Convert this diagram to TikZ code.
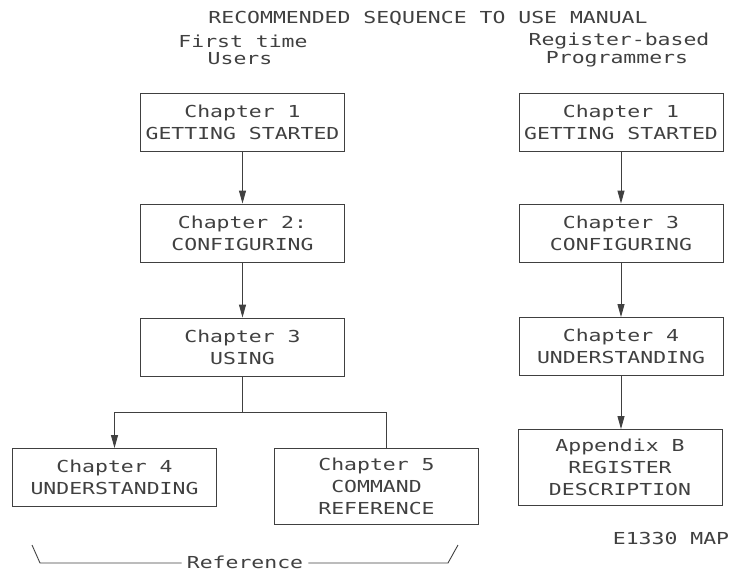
\documentclass[tikz,border=0pt]{standalone}
\usepackage{fontspec}
\newfontfamily\plotfont[FakeStretch=1.3]{DejaVu Sans Mono}
\usetikzlibrary{arrows.meta}
\begin{document}
\begin{tikzpicture}[x=1pt,y=-1pt,
  txt/.style={font=\plotfont\fontsize{16.5}{22}\selectfont, text=black!75, inner sep=5pt},
  box/.style={txt, draw=black!75, line width=0.9pt, minimum width=204pt, minimum height=58pt, inner sep=0pt, align=center},
  tallbox/.style={box, minimum height=76pt},
  conn/.style={draw=black!75, line width=0.9pt},
  arr/.style={conn, -{Triangle[length=13pt,width=7pt]}}]
\useasboundingbox (0,0) rectangle (732,571);
% titles
\node[txt] (title) at (428,18) {RECOMMENDED SEQUENCE TO USE MANUAL};
\node[txt] (lh1) at (243,41) {First time};
\node[txt] (lh2) at (240,59) {Users};
\node[txt] (rh1) at (619,41) {Register-based};
\node[txt] (rh2) at (617,59) {Programmers};
% left column
\node[box] (L1) at (242.5,122.5) {Chapter 1\\GETTING STARTED};
\node[box] (L2) at (242.5,233) {Chapter 2:\\CONFIGURING};
\node[box] (L3) at (242.5,347) {Chapter 3\\USING};
\node[box] (L4) at (114.5,477.5) {Chapter 4\\UNDERSTANDING};
\node[tallbox] (L5) at (376.5,486.5) {Chapter 5\\COMMAND\\REFERENCE};
% right column
\node[box] (R1) at (621,122.5) {Chapter 1\\GETTING STARTED};
\node[box] (R2) at (621,233) {Chapter 3\\CONFIGURING};
\node[box] (R3) at (621,346.5) {Chapter 4\\UNDERSTANDING};
\node[tallbox] (R4) at (620,467.5) {Appendix B\\REGISTER\\DESCRIPTION};
% connectors
\draw[arr] (L1) -- (L2);
\draw[arr] (L2) -- (L3);
\coordinate (j) at (242.5,412);
\coordinate (jr) at (386,412);
\draw[conn] (L3.south) -- (j);
\draw[arr] (jr |- L5.north) -- (jr) -| (L4.north);
\draw[arr] (R1.south -| R3.north) -- (R2.north -| R3.north);
\draw[arr] (R2.south -| R3.north) -- (R3.north);
\draw[arr] (R3.south) -- (R3.south |- R4.north);
% reference bracket
\node[txt] (ref) at (245,562) {Reference};
\coordinate (bl) at (32,545);
\coordinate (br) at (458,545);
\draw[conn] (bl) -- (40,563) -- (ref.west |- 0,563);
\draw[conn] (ref.east |- 0,563) -- (448,563) -- (br);
\node[txt] (map) at (671,538) {E1330 MAP};
\end{tikzpicture}
\end{document}
